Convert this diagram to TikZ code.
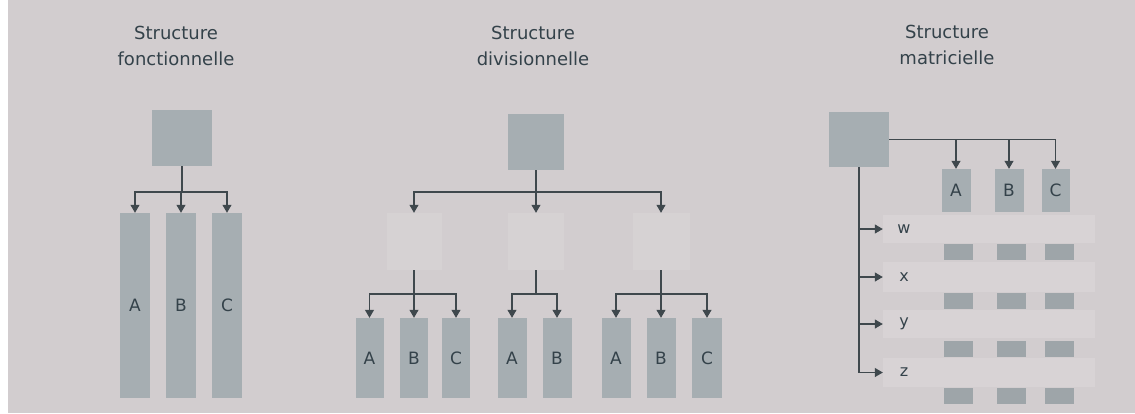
\documentclass[tikz,border=0pt]{standalone}
\usepackage{fontspec}
\setmainfont{DejaVu Sans}
\usetikzlibrary{arrows.meta}
\definecolor{bg}{HTML}{D2CDCF}
\definecolor{boxc}{HTML}{A6AEB2}
\definecolor{faint}{HTML}{D6D2D3}
\definecolor{band}{HTML}{D8D3D5}
\definecolor{ink}{HTML}{34424A}
\definecolor{linec}{HTML}{3F484D}
\tikzset{
  box/.style={fill=boxc, draw=none, inner sep=0pt, text=ink, font=\fontsize{17}{19}\selectfont},
  fbox/.style={fill=faint, draw=none, inner sep=0pt},
  bandbox/.style={fill=band, draw=none, inner sep=0pt, minimum width=212pt},
  cell/.style={fill=boxc!95!black, draw=none, inner sep=0pt, minimum width=29pt, minimum height=16pt},
  title/.style={align=center, text=ink, inner sep=0pt, font=\fontsize{18}{26}\selectfont},
  lbl/.style={text=ink, font=\fontsize{16}{18}\selectfont, inner sep=0pt},
  conn/.style={draw=linec, line width=1.1pt},
  arr/.style={conn, -{Triangle[length=8pt,width=9pt]}}
}
\begin{document}
\begin{tikzpicture}[x=1pt,y=-1pt]
\useasboundingbox (0,0) rectangle (1135,413);
\fill[bg] (0,0) rectangle (1135,413);
\fill[white] (0,0) rectangle (8,413);

% ---------- Structure fonctionnelle ----------
\node[title] (tf) at (176,46) {Structure\\fonctionnelle};
\node[box, minimum width=60pt, minimum height=56pt] (f0) at (182,138) {};
\node[box, minimum width=30pt, minimum height=185pt] (fA) at (135,305.5) {A};
\node[box, minimum width=30pt, minimum height=185pt] (fB) at (181,305.5) {B};
\node[box, minimum width=30pt, minimum height=185pt] (fC) at (227,305.5) {C};
\coordinate (fj) at (182,192);
\draw[conn] (f0.south) -- (fj);
\draw[arr] (fj) -| (fA.north);
\draw[arr] (fj) -| (fB.north);
\draw[arr] (fj) -| (fC.north);

% ---------- Structure divisionnelle ----------
\node[title] (td) at (533,46) {Structure\\divisionnelle};
\node[box, minimum width=56pt, minimum height=56pt] (d0) at (536,142) {};
\node[fbox, minimum width=55pt, minimum height=57pt] (d1) at (414,241.5) {};
\node[fbox, minimum width=56pt, minimum height=57pt] (d2) at (536,241.5) {};
\node[fbox, minimum width=57pt, minimum height=57pt] (d3) at (661,241.5) {};
\coordinate (dj) at (536,192);
\draw[conn] (d0.south) -- (dj);
\draw[arr] (dj) -| (d1.north);
\draw[arr] (dj) -- (d2.north);
\draw[arr] (dj) -| (d3.north);

\node[box, minimum width=28pt, minimum height=80pt] (a1) at (369.5,358) {A};
\node[box, minimum width=28pt, minimum height=80pt] (b1) at (414,358) {B};
\node[box, minimum width=28pt, minimum height=80pt] (c1) at (456,358) {C};
\node[box, minimum width=29pt, minimum height=80pt] (a2) at (512,358) {A};
\node[box, minimum width=29pt, minimum height=80pt] (b2) at (557,358) {B};
\node[box, minimum width=29pt, minimum height=80pt] (a3) at (616,358) {A};
\node[box, minimum width=29pt, minimum height=80pt] (b3) at (661,358) {B};
\node[box, minimum width=30pt, minimum height=80pt] (c3) at (707,358) {C};

\coordinate (dj1) at (414,294);
\draw[conn] (d1.south) -- (dj1);
\draw[arr] (dj1) -| (a1.north);
\draw[arr] (dj1) -- (b1.north);
\draw[arr] (dj1) -| (c1.north);

\coordinate (dj2) at (536,294);
\draw[conn] (d2.south) -- (dj2);
\draw[arr] (dj2) -| (a2.north);
\draw[arr] (dj2) -| (b2.north);

\coordinate (dj3) at (661,294);
\draw[conn] (d3.south) -- (dj3);
\draw[arr] (dj3) -| (a3.north);
\draw[arr] (dj3) -- (b3.north);
\draw[arr] (dj3) -| (c3.north);

% ---------- Structure matricielle ----------
\node[title] (tm) at (947,45) {Structure\\matricielle};
\node[box, minimum width=60pt, minimum height=55pt] (m0) at (859,139.5) {};
\node[box, minimum width=29pt, minimum height=43pt] (mA) at (956,190.5) {A};
\node[box, minimum width=29pt, minimum height=43pt] (mB) at (1009,190.5) {B};
\node[box, minimum width=28pt, minimum height=43pt] (mC) at (1055.5,190.5) {C};
\draw[conn] (m0.east) -- (m0.east -| mC.north);
\draw[arr] (m0.east -| mA.north) -- (mA.north);
\draw[arr] (m0.east -| mB.north) -- (mB.north);
\draw[arr] (m0.east -| mC.north) -- (mC.north);

\node[bandbox, minimum height=28pt] (bw) at (989,229) {};
\node[bandbox, minimum height=30pt] (bx) at (989,277) {};
\node[bandbox, minimum height=28pt] (by) at (989,324) {};
\node[bandbox, minimum height=29pt] (bz) at (989,372.5) {};
\node[lbl] (lw) at (904,229) {w};
\node[lbl] (lx) at (904,277) {x};
\node[lbl] (ly) at (904,324) {y};
\node[lbl] (lz) at (904,372.5) {z};

\foreach \r/\yy in {w/252,x/300.5,y/348.5,z/395.5}{
  \node[cell] (c\r1) at (958.5,\yy) {};
  \node[cell] (c\r2) at (1011,\yy) {};
  \node[cell] (c\r3) at (1059,\yy) {};
}

\draw[conn] (m0.south) -- (m0.south |- bz.west);
\draw[arr] (m0.south |- bw.west) -- (bw.west);
\draw[arr] (m0.south |- bx.west) -- (bx.west);
\draw[arr] (m0.south |- by.west) -- (by.west);
\draw[arr] (m0.south |- bz.west) -- (bz.west);
\end{tikzpicture}
\end{document}
